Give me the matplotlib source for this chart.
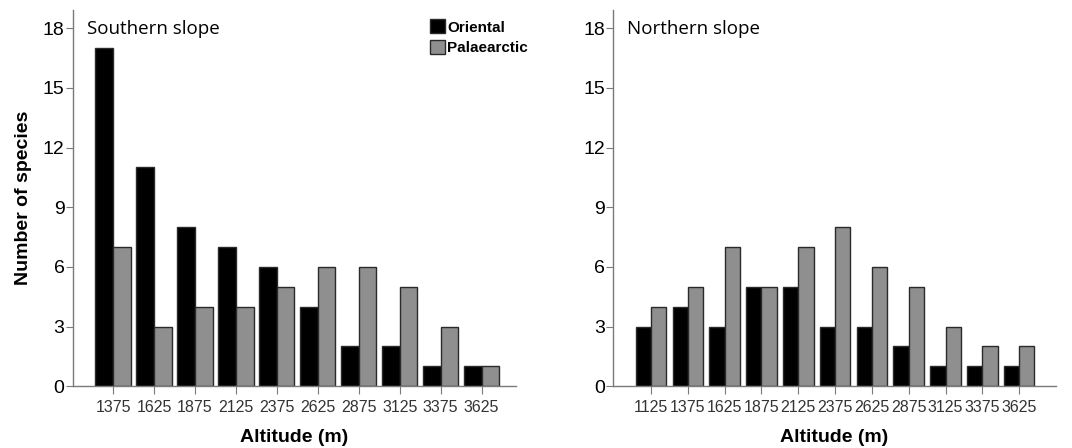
import numpy as np
import matplotlib
matplotlib.use("Agg")
from matplotlib import pyplot as plt
from matplotlib.patches import Patch

### data
south_alt = ["1375", "1625", "1875", "2125", "2375", "2625", "2875", "3125", "3375", "3625"]
south_oriental = [17, 11, 8, 7, 6, 4, 2, 2, 1, 1]
south_palaearctic = [7, 3, 4, 4, 5, 6, 6, 5, 3, 1]

north_alt = ["1125", "1375", "1625", "1875", "2125", "2375", "2625", "2875", "3125", "3375", "3625"]
north_oriental = [3, 4, 3, 5, 5, 3, 3, 2, 1, 1, 1]
north_palaearctic = [4, 5, 7, 5, 7, 8, 6, 5, 3, 2, 2]

c_or = "#000000"
c_pa = "#8f8f8f"
c_edge = "#2a2a2a"
c_axis = "#7a7a7a"

plt.rcParams['font.family'] = ['Liberation Sans', 'DejaVu Sans']

fig = plt.figure(figsize=(10.72, 4.48), dpi=100)
ax1 = fig.add_axes([0.068, 0.138, 0.413, 0.839])
ax2 = fig.add_axes([0.572, 0.138, 0.413, 0.839])


def panel(ax, labels, ori, pal, width, xlim, title):
    x = np.arange(len(labels))
    ax.bar(x - width/2, ori, width, color=c_or, edgecolor=c_edge, linewidth=1.0)
    ax.bar(x + width/2, pal, width, color=c_pa, edgecolor=c_edge, linewidth=1.0)
    ax.set_xlim(*xlim)
    ax.set_ylim(0, 18.9)
    ax.set_yticks(range(0, 19, 3))
    ax.set_xticks(x)
    ax.set_xticklabels(labels, fontsize=11.5, color="#333333")
    ax.tick_params(axis='y', labelsize=14, length=5, color=c_axis, pad=1)
    ax.tick_params(axis='x', length=6, color=c_axis, pad=4)
    for s in ['top', 'right']:
        ax.spines[s].set_visible(False)
    for s in ['left', 'bottom']:
        ax.spines[s].set_color(c_axis)
        ax.spines[s].set_linewidth(1.0)
    ax.set_xlabel("Altitude (m)", fontsize=14, fontweight='bold', labelpad=10)
    ax.text(0.032, 0.975, title, transform=ax.transAxes, fontsize=13.5,
            family='Open Sans', va='top', ha='left')


panel(ax1, south_alt, south_oriental, south_palaearctic, 0.43, (-0.98, 9.83), "Southern slope")
panel(ax2, north_alt, north_oriental, north_palaearctic, 0.415, (-1.03, 11.0), "Northern slope")

ax1.set_ylabel("Number of species", fontsize=14, fontweight='bold', labelpad=8)

handles = [Patch(facecolor=c_or, edgecolor=c_edge, label="Oriental"),
           Patch(facecolor=c_pa, edgecolor=c_edge, label="Palaearctic")]
ax1.legend(handles=handles, loc='upper left', bbox_to_anchor=(0.785, 1.0), frameon=False,
           prop={'size': 11, 'weight': 'bold'}, handlelength=1.0, handleheight=1.0,
           handletextpad=0.15, labelspacing=0.35, borderaxespad=0.2)

fig.savefig("out.png", dpi=100)
